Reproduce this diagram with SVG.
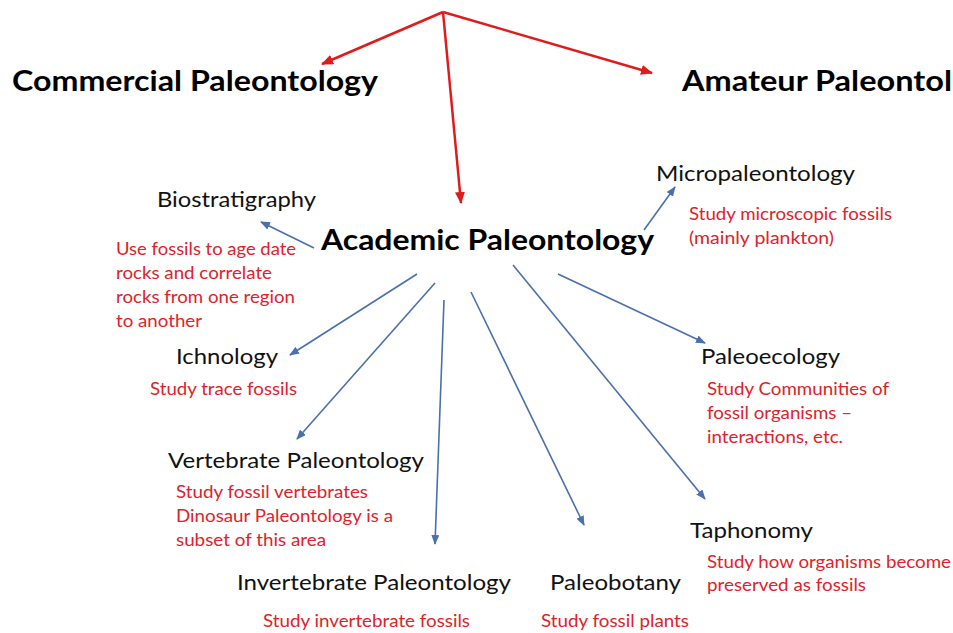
<svg xmlns="http://www.w3.org/2000/svg" width="953" height="633" viewBox="0 0 953 633">
<style>
text{font-family:Lato,"Liberation Sans",sans-serif}
.big{font-size:28px;font-weight:bold;fill:#000}
.lbl{font-size:22px;fill:#111}
.note{font-size:16.5px;fill:#e0222a}
.red{stroke:#e01b1b;stroke-width:2.5;fill:none}
.blue{stroke:#4a70ad;stroke-width:1.6;fill:none}
</style>
<defs>
<marker id="ar" markerUnits="userSpaceOnUse" markerWidth="12" markerHeight="10" refX="11" refY="5" orient="auto"><path d="M0,0 L12,5 L0,10 Z" fill="#e01b1b"/></marker>
<marker id="ab" markerUnits="userSpaceOnUse" markerWidth="10" markerHeight="8" refX="9" refY="4" orient="auto"><path d="M0,0 L10,4 L0,8 Z" fill="#4a70ad"/></marker>
</defs>
<g id="connectors">
<line class="red" x1="443" y1="12" x2="322" y2="64" marker-end="url(#ar)"/>
<line class="red" x1="443" y1="12" x2="652" y2="73" marker-end="url(#ar)"/>
<line class="red" x1="443" y1="12" x2="461" y2="203" marker-end="url(#ar)"/>
<line class="blue" x1="314" y1="248" x2="261" y2="222" marker-end="url(#ab)"/>
<line class="blue" x1="644" y1="230" x2="675" y2="187" marker-end="url(#ab)"/>
<line class="blue" x1="558" y1="274" x2="705" y2="343" marker-end="url(#ab)"/>
<line class="blue" x1="513" y1="265" x2="705" y2="499" marker-end="url(#ab)"/>
<line class="blue" x1="471" y1="292" x2="584" y2="525" marker-end="url(#ab)"/>
<line class="blue" x1="444" y1="300" x2="435" y2="544" marker-end="url(#ab)"/>
<line class="blue" x1="435" y1="283" x2="297" y2="439" marker-end="url(#ab)"/>
<line class="blue" x1="417" y1="274" x2="290" y2="355" marker-end="url(#ab)"/>
</g>
<g id="commercial"><text class="big" x="12" y="91" textLength="366" lengthAdjust="spacingAndGlyphs">Commercial Paleontology</text></g>
<g id="amateur"><text class="big" x="682" y="91" textLength="270" lengthAdjust="spacingAndGlyphs">Amateur Paleontol</text></g>
<g id="academic"><text class="big" x="321" y="250" textLength="333" lengthAdjust="spacingAndGlyphs">Academic Paleontology</text></g>
<g id="biostratigraphy">
<text class="lbl" x="157" y="207" textLength="159" lengthAdjust="spacingAndGlyphs">Biostratigraphy</text>
<text class="note" x="116" y="255" textLength="180" lengthAdjust="spacingAndGlyphs">Use fossils to age date</text>
<text class="note" x="116" y="279" textLength="156" lengthAdjust="spacingAndGlyphs">rocks and correlate</text>
<text class="note" x="116" y="303" textLength="179" lengthAdjust="spacingAndGlyphs">rocks from one region</text>
<text class="note" x="116" y="327" textLength="86" lengthAdjust="spacingAndGlyphs">to another</text>
</g>
<g id="micropaleontology">
<text class="lbl" x="656" y="181" textLength="199" lengthAdjust="spacingAndGlyphs">Micropaleontology</text>
<text class="note" x="689" y="220" textLength="203" lengthAdjust="spacingAndGlyphs">Study microscopic fossils</text>
<text class="note" x="689" y="244" textLength="145" lengthAdjust="spacingAndGlyphs">(mainly plankton)</text>
</g>
<g id="paleoecology">
<text class="lbl" x="701" y="364" textLength="139" lengthAdjust="spacingAndGlyphs">Paleoecology</text>
<text class="note" x="707" y="395" textLength="182" lengthAdjust="spacingAndGlyphs">Study Communities of</text>
<text class="note" x="707" y="419" textLength="145" lengthAdjust="spacingAndGlyphs">fossil organisms –</text>
<text class="note" x="707" y="443" textLength="136" lengthAdjust="spacingAndGlyphs">interactions, etc.</text>
</g>
<g id="ichnology">
<text class="lbl" x="176" y="364" textLength="102" lengthAdjust="spacingAndGlyphs">Ichnology</text>
<text class="note" x="150" y="395" textLength="147" lengthAdjust="spacingAndGlyphs">Study trace fossils</text>
</g>
<g id="vertebrate">
<text class="lbl" x="168" y="468" textLength="256" lengthAdjust="spacingAndGlyphs">Vertebrate Paleontology</text>
<text class="note" x="176" y="498" textLength="192" lengthAdjust="spacingAndGlyphs">Study fossil vertebrates</text>
<text class="note" x="176" y="522" textLength="217" lengthAdjust="spacingAndGlyphs">Dinosaur Paleontology is a</text>
<text class="note" x="176" y="546" textLength="150" lengthAdjust="spacingAndGlyphs">subset of this area</text>
</g>
<g id="invertebrate">
<text class="lbl" x="237" y="590" textLength="274" lengthAdjust="spacingAndGlyphs">Invertebrate Paleontology</text>
<text class="note" x="263" y="627" textLength="207" lengthAdjust="spacingAndGlyphs">Study invertebrate fossils</text>
</g>
<g id="paleobotany">
<text class="lbl" x="550" y="590" textLength="131" lengthAdjust="spacingAndGlyphs">Paleobotany</text>
<text class="note" x="541" y="627" textLength="148" lengthAdjust="spacingAndGlyphs">Study fossil plants</text>
</g>
<g id="taphonomy">
<text class="lbl" x="690" y="538" textLength="123" lengthAdjust="spacingAndGlyphs">Taphonomy</text>
<text class="note" x="707" y="568" textLength="244" lengthAdjust="spacingAndGlyphs">Study how organisms become</text>
<text class="note" x="707" y="591" textLength="159" lengthAdjust="spacingAndGlyphs">preserved as fossils</text>
</g>
</svg>
